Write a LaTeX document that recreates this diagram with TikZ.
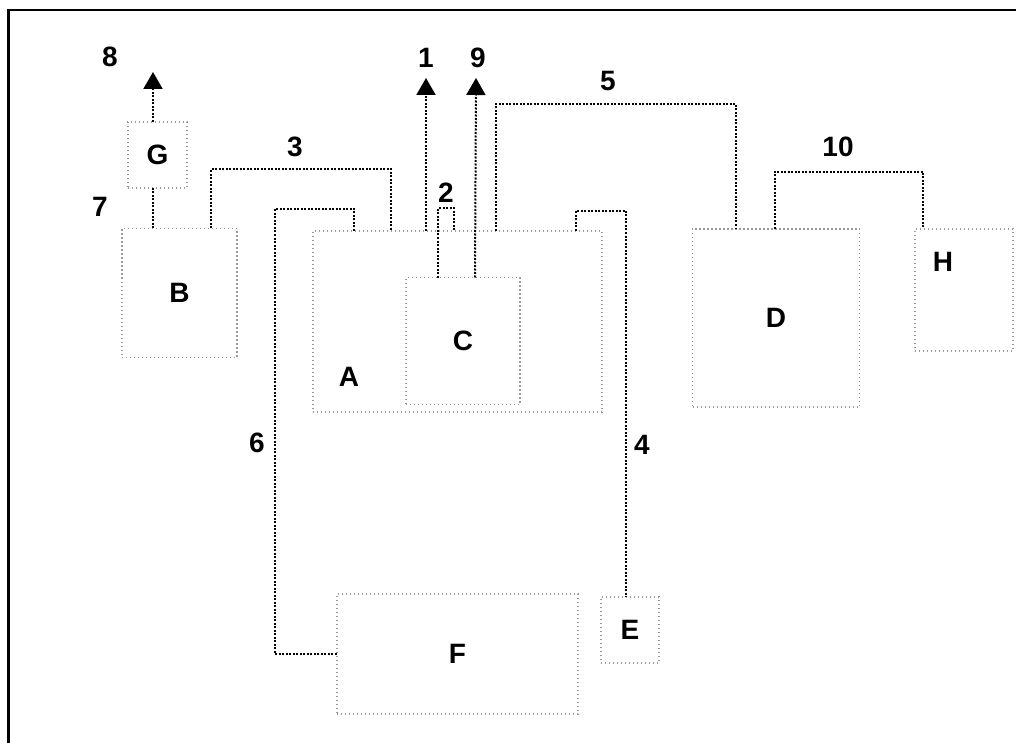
\documentclass[tikz,border=0pt]{standalone}
\usepackage{fontspec}
\setmainfont{Liberation Sans}
\usepackage{tikz}
\usetikzlibrary{arrows.meta, positioning, calc}
\tikzset{
  blk/.style    ={draw=black!40, dash pattern=on 1.4pt off 2.6pt, line width=1.3pt, rectangle, inner sep=0pt, outer sep=0pt, font=\fontsize{28}{32}\selectfont\bfseries},
  flow/.style   ={draw=black, dash pattern=on 2pt off 1.5pt, line width=2pt},
  flowout/.style={flow, -{Triangle[width=19pt, length=17pt]}},
  num/.style    ={font=\fontsize{28}{32}\selectfont\bfseries, inner sep=0pt},
  frm/.style    ={line width=2.6pt},
}
\begin{document}
\begin{tikzpicture}[x=1pt, y=-1pt]
  \useasboundingbox (0,0) rectangle (1016,743);
  \draw[frm] (1016,10) -- (8.5,10) -- (8.5,743);
  % units
  \node[blk, minimum width=289pt, minimum height=181pt] (A) at (457.5,321.5) {};
  \node[blk, minimum width=115pt, minimum height=129pt] (B) at (179.5,293) {B};
  \node[blk, minimum width=114pt, minimum height=127pt] (C) at (463,341) {C};
  \node[blk, minimum width=167pt, minimum height=178pt] (D) at (776,318) {D};
  \node[blk, minimum width=58pt,  minimum height=66pt]  (E) at (630,630) {E};
  \node[blk, minimum width=241pt, minimum height=120pt] (F) at (457.5,654) {F};
  \node[blk, minimum width=59pt,  minimum height=66pt]  (G) at (157.5,155) {G};
  \node[blk, minimum width=98pt,  minimum height=122pt] (H) at (964,290) {};
  \node[num] (Atag) at ($(A.south west)+(36,-35)$) {A};
  \node[num] (Htag) at ($(H.north west)+(28,33)$) {H};
  % outlets
  \coordinate (o1) at (426,78);
  \coordinate (o9) at (476,78);
  \coordinate (o8) at (153,72);
  \draw[flowout] ($(A.north west)+(113,0)$) -- (o1);
  \draw[flowout] ($(C.north west)+(69,0)$) -- (o9);
  \draw[flowout] ($(G.north west)+(25,0)$) -- (o8);
  % links
  \draw[flow] ($(G.south west)+(25,0)$) -- ($(B.north west)+(31,0)$);
  \draw[flow] ($(C.north west)+(32,0)$) -- ++(0,-69) -| ($(A.north west)+(141,0)$);
  \draw[flow] ($(B.north west)+(89,0)$) -- ++(0,-59) -| ($(A.north west)+(78,0)$);
  \draw[flow] ($(A.north west)+(263,0)$) -- ++(0,-20) -| ($(E.north west)+(25,0)$);
  \draw[flow] ($(A.north west)+(183,0)$) -- ++(0,-127) -| ($(D.north west)+(43,0)$);
  \draw[flow] ($(A.north west)+(41,0)$) -- ++(0,-22) -- ++(-79,0) |- (F.west);
  \draw[flow] ($(D.north west)+(82,0)$) -- ++(0,-57) -| ($(H.north west)+(8,0)$);
  % stream numbers
  \node[num] (n1)  at (426,58)  {1};
  \node[num] (n2)  at (446,193) {2};
  \node[num] (n3)  at (295,147) {3};
  \node[num] (n4)  at (642,445) {4};
  \node[num] (n5)  at (608,81)  {5};
  \node[num] (n6)  at (257,443) {6};
  \node[num] (n7)  at (100,207) {7};
  \node[num] (n8)  at (110,57)  {8};
  \node[num] (n9)  at (478,58)  {9};
  \node[num] (n10) at (838,147) {10};
\end{tikzpicture}
\end{document}
